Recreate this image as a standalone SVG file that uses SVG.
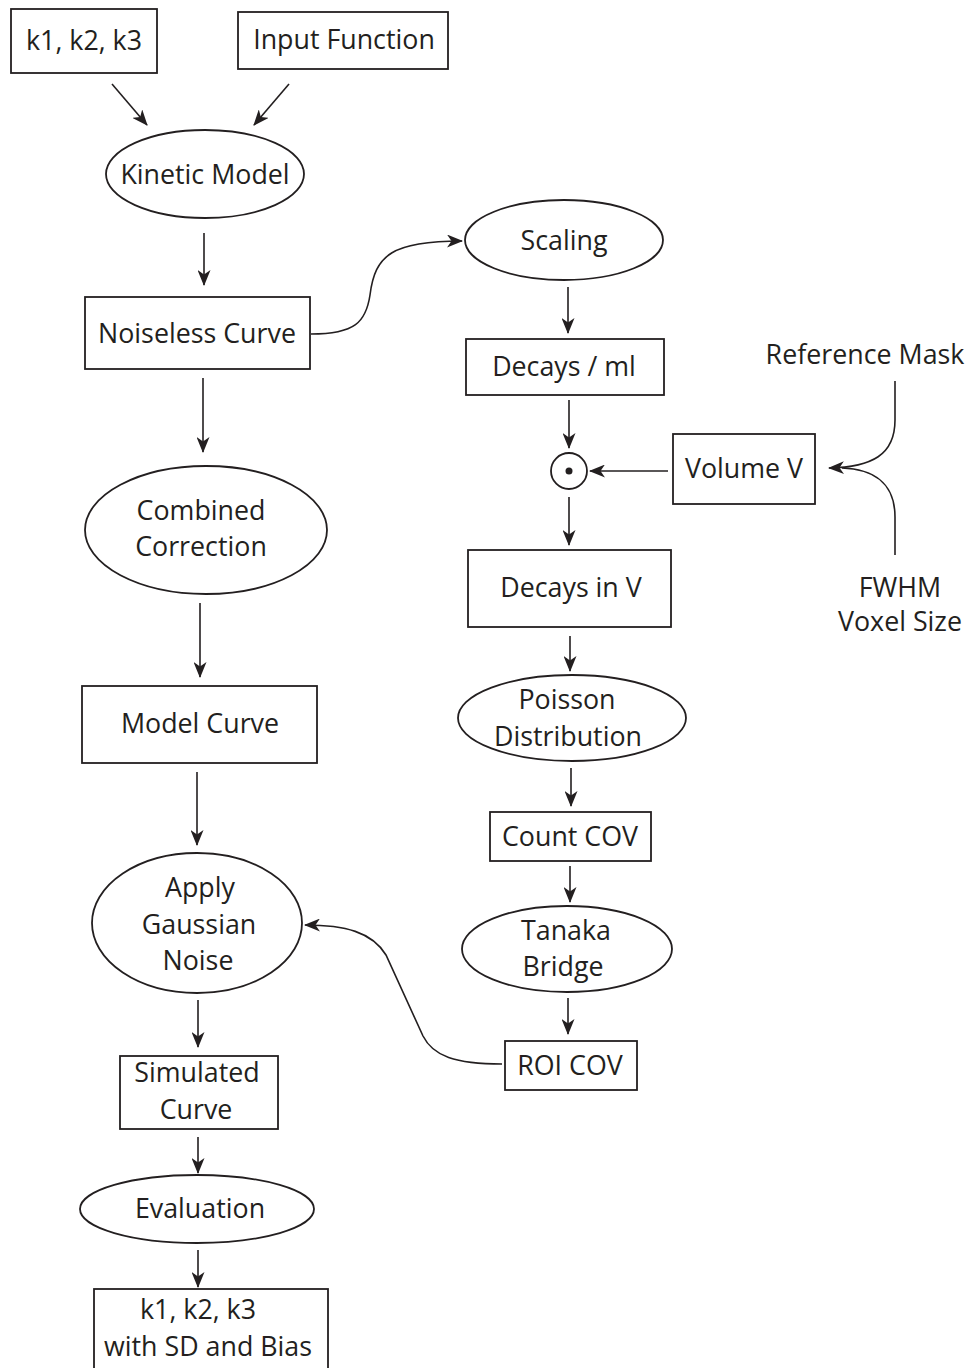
<svg xmlns="http://www.w3.org/2000/svg" width="974" height="1368" viewBox="0 0 974 1368">
<style>
.s{fill:none;stroke:#231f20;stroke-width:1.8}
.c{fill:none;stroke:#231f20;stroke-width:1.6}
text{font-family:"Open Sans","Liberation Sans",sans-serif;font-size:26.8px;fill:#231f20;text-anchor:middle}
</style>
<defs>
<marker id="a" viewBox="0 0 16 13" refX="15" refY="6.5" markerWidth="16" markerHeight="13" markerUnits="userSpaceOnUse" orient="auto">
<path d="M0,0 L16,6.5 L0,13 L4.5,6.5 z" fill="#231f20"/>
</marker>
</defs>
<rect width="974" height="1368" fill="#fff"/>
<g id="connectors">
<path class="c" d="M112,84 L147,125" marker-end="url(#a)"/>
<path class="c" d="M289,84 L254,125" marker-end="url(#a)"/>
<path class="c" d="M204,233 L204,285" marker-end="url(#a)"/>
<path class="c" d="M311,334 C355,334 366,322 370,295 C375,255 392,241 462,241" marker-end="url(#a)"/>
<path class="c" d="M568,287 L568,333" marker-end="url(#a)"/>
<path class="c" d="M569,400 L569,448" marker-end="url(#a)"/>
<path class="c" d="M668,471 L590,471" marker-end="url(#a)"/>
<path class="c" d="M895,381 L895,420 C895,455 872,467 829,468" marker-end="url(#a)"/>
<path class="c" d="M895,555 L895,517 C895,482 872,469 842,468"/>
<path class="c" d="M569,497 L569,545" marker-end="url(#a)"/>
<path class="c" d="M570,636 L570,671" marker-end="url(#a)"/>
<path class="c" d="M571,768 L571,806" marker-end="url(#a)"/>
<path class="c" d="M570,866 L570,902" marker-end="url(#a)"/>
<path class="c" d="M568,998 L568,1034" marker-end="url(#a)"/>
<path class="c" d="M502,1064 C455,1064 433,1056 423,1036 L386,955 C372,932 345,925 305,925" marker-end="url(#a)"/>
<path class="c" d="M203,378 L203,452" marker-end="url(#a)"/>
<path class="c" d="M200,603 L200,677" marker-end="url(#a)"/>
<path class="c" d="M197,772 L197,845" marker-end="url(#a)"/>
<path class="c" d="M198,1000 L198,1047" marker-end="url(#a)"/>
<path class="c" d="M198,1137 L198,1173" marker-end="url(#a)"/>
<path class="c" d="M198,1250 L198,1287" marker-end="url(#a)"/>
</g>
<g id="k123"><rect class="s" x="11" y="9" width="146" height="64"/><text x="84" y="50">k1, k2, k3</text></g>
<g id="input"><rect class="s" x="238" y="12" width="210" height="57"/><text x="344" y="49">Input Function</text></g>
<g id="kinetic"><ellipse class="s" cx="205" cy="174" rx="99" ry="44"/><text x="205" y="184">Kinetic Model</text></g>
<g id="noiseless"><rect class="s" x="85" y="297" width="225" height="72"/><text x="197" y="343">Noiseless Curve</text></g>
<g id="scaling"><ellipse class="s" cx="564" cy="240" rx="99" ry="40"/><text x="564" y="250">Scaling</text></g>
<g id="decaysml"><rect class="s" x="466" y="339" width="198" height="56"/><text x="564" y="376">Decays / ml</text></g>
<g id="mult"><circle class="s" cx="569" cy="471" r="18"/><circle cx="569" cy="471" r="3.5" fill="#231f20"/></g>
<g id="volume"><rect class="s" x="673" y="434" width="142" height="70"/><text x="744" y="478">Volume V</text></g>
<g id="refmask"><text x="865" y="364">Reference Mask</text></g>
<g id="fwhm"><text x="900" y="597">FWHM</text><text x="900" y="631">Voxel Size</text></g>
<g id="decaysv"><rect class="s" x="468" y="550" width="203" height="77"/><text x="571" y="597">Decays in V</text></g>
<g id="poisson"><ellipse class="s" cx="572" cy="718" rx="114" ry="43"/><text x="567" y="709">Poisson</text><text x="568" y="746">Distribution</text></g>
<g id="countcov"><rect class="s" x="490" y="812" width="161" height="49"/><text x="570" y="846">Count COV</text></g>
<g id="tanaka"><ellipse class="s" cx="567" cy="949" rx="105" ry="43"/><text x="566" y="940">Tanaka</text><text x="563" y="976">Bridge</text></g>
<g id="roicov"><rect class="s" x="505" y="1041" width="132" height="49"/><text x="570" y="1075">ROI COV</text></g>
<g id="combined"><ellipse class="s" cx="206" cy="530" rx="121" ry="64"/><text x="201" y="520">Combined</text><text x="201" y="556">Correction</text></g>
<g id="model"><rect class="s" x="82" y="686" width="235" height="77"/><text x="200" y="733">Model Curve</text></g>
<g id="gaussian"><ellipse class="s" cx="197" cy="923" rx="105" ry="70"/><text x="200" y="897">Apply</text><text x="199" y="934">Gaussian</text><text x="198" y="970">Noise</text></g>
<g id="simulated"><rect class="s" x="120" y="1056" width="158" height="73"/><text x="197" y="1082">Simulated</text><text x="196" y="1119">Curve</text></g>
<g id="evaluation"><ellipse class="s" cx="197" cy="1209" rx="117" ry="34"/><text x="200" y="1218">Evaluation</text></g>
<g id="result"><rect class="s" x="94" y="1289" width="234" height="85"/><text x="198" y="1319">k1, k2, k3</text><text x="208" y="1356">with SD and Bias</text></g>
</svg>
